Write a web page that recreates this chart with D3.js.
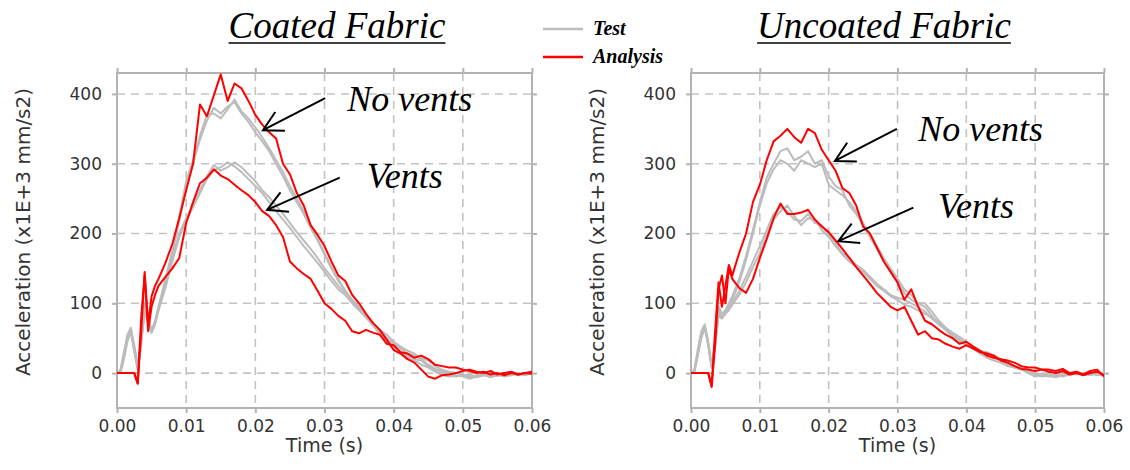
<!DOCTYPE html>
<html>
<head>
<meta charset="utf-8">
<script src="https://cdn.jsdelivr.net/npm/d3@7"></script>
<style>
  body { margin: 0; background: #fff; }
  text { font-family: "DejaVu Sans", sans-serif; }
</style>
</head>
<body>
<svg id="chart" width="1130" height="470"></svg>
<script>
// time samples (s): half-ms at the start, then 1 ms
const time = [0, 0.0005, 0.001, 0.0015, 0.002, 0.0025, 0.003, 0.0035, 0.004, 0.0045, 0.005, 0.0055, 0.006,
  0.007, 0.008, 0.009, 0.010, 0.011, 0.012, 0.013, 0.014, 0.015, 0.016,
  0.017, 0.018, 0.019, 0.020, 0.021, 0.022, 0.023, 0.024, 0.025, 0.026,
  0.027, 0.028, 0.029, 0.030, 0.031, 0.032, 0.033, 0.034, 0.035, 0.036,
  0.037, 0.038, 0.039, 0.040, 0.041, 0.042, 0.043, 0.044, 0.045, 0.046,
  0.047, 0.048, 0.049, 0.050, 0.051, 0.052, 0.053, 0.054, 0.055, 0.056,
  0.057, 0.058, 0.059, 0.060];

const xTicks = [0, 0.01, 0.02, 0.03, 0.04, 0.05, 0.06];
const yTicks = [0, 100, 200, 300, 400];
const yDomain = [-50, 430];

// ---- Coated fabric (x1E+3 mm/s2)
const coatedTestNoVents1 = [0, 5, 30, 55, 65, 40, 10, 50, 100, 80, 62, 75, 95,
  135, 175, 225, 275, 305, 340, 370, 372, 365, 378,
  392, 375, 365, 352, 338, 322, 305, 288, 268, 250,
  232, 212, 192, 172, 152, 135, 118, 105, 92, 80,
  68, 56, 45, 35, 28, 22, 18, 12, 8, 2,
  -3, -5, -4, -2, -6, -3, 0, -4, -2, -5,
  -3, 0, -2, 0];
const coatedTestNoVents2 = [0, 0, 20, 45, 60, 30, 5, 40, 90, 70, 58, 70, 90,
  130, 172, 218, 268, 300, 335, 362, 380, 372, 382,
  388, 372, 360, 345, 332, 318, 300, 282, 262, 245,
  228, 208, 190, 170, 150, 132, 118, 102, 92, 82,
  70, 58, 48, 38, 30, 25, 20, 18, 10, 5,
  0, -2, -5, -3, -2, -5, -3, 0, -4, -2,
  0, -3, 0, 0];
const coatedTestVents1 = [0, 3, 25, 50, 62, 35, 8, 45, 95, 75, 60, 72, 92,
  125, 165, 200, 222, 240, 262, 282, 298, 290, 295,
  302, 295, 285, 275, 262, 252, 240, 228, 215, 202,
  190, 178, 165, 150, 138, 125, 115, 105, 95, 82,
  70, 60, 50, 42, 35, 28, 25, 20, 12, 6,
  3, 0, -3, -5, -8, -5, -2, -6, -3, -2,
  0, -3, -1, 0];
const coatedTestVents2 = [0, 2, 22, 48, 60, 32, 6, 42, 92, 72, 58, 70, 90,
  122, 160, 195, 218, 238, 258, 278, 290, 295, 302,
  296, 288, 278, 268, 258, 245, 232, 220, 208, 195,
  182, 170, 158, 145, 132, 120, 112, 100, 90, 80,
  72, 62, 55, 45, 38, 32, 28, 22, 18, 10,
  5, 2, 0, -2, -4, -6, -3, -5, -2, 0,
  -2, 0, -3, 0];
const coatedAnalysisNoVents = [0, 0, 0, 0, 0, 0, -15, 60, 145, 70, 110, 125, 135,
  158, 185, 222, 262, 300, 385, 368, 398, 428, 390,
  415, 408, 390, 370, 356, 345, 336, 300, 285, 258,
  240, 212, 198, 182, 160, 140, 132, 112, 100, 85,
  72, 62, 48, 33, 28, 20, 15, 5, -5, -8,
  -3, -2, 0, 3, 5, 2, 0, 3, -2, 0,
  2, -2, 0, 2];
const coatedAnalysisVents = [0, 0, 0, 0, 0, 0, -15, 80, 140, 60, 95, 112, 125,
  138, 150, 165, 215, 245, 272, 280, 292, 283, 278,
  270, 262, 255, 245, 232, 225, 212, 195, 160, 150,
  142, 135, 118, 100, 92, 82, 75, 60, 57, 62,
  58, 55, 42, 40, 30, 28, 22, 25, 20, 12,
  10, 8, 8, 5, 3, 0, 2, -2, 0, -3,
  0, -2, 0, -1];

// ---- Uncoated fabric (x1E+3 mm/s2)
const uncoatedTestNoVents1 = [0, 5, 35, 60, 70, 45, 10, 45, 95, 85, 90, 100, 110,
  135, 168, 205, 245, 280, 300, 318, 322, 305, 310,
  318, 300, 305, 282, 268, 262, 240, 228, 212, 195,
  178, 162, 145, 130, 115, 105, 100, 95, 82, 70,
  62, 55, 48, 42, 35, 30, 28, 22, 18, 12,
  10, 5, 0, -5, -3, 0, -5, -3, 0, -2,
  0, -3, 0, -2];
const uncoatedTestNoVents2 = [0, 2, 25, 50, 65, 40, 8, 40, 90, 80, 85, 95, 105,
  130, 162, 200, 240, 272, 292, 305, 300, 290, 305,
  300, 295, 300, 270, 262, 255, 245, 232, 215, 198,
  182, 165, 150, 135, 120, 112, 100, 100, 88, 75,
  65, 58, 52, 45, 38, 32, 30, 25, 20, 15,
  10, 8, 3, -2, -5, -3, -2, 0, -3, 0,
  -2, 0, -2, -3];
const uncoatedTestVents1 = [0, 4, 30, 55, 68, 42, 10, 40, 85, 80, 88, 92, 100,
  118, 138, 160, 182, 205, 228, 238, 232, 220, 218,
  228, 215, 212, 198, 185, 172, 165, 155, 148, 138,
  128, 120, 112, 108, 105, 100, 95, 88, 78, 70,
  62, 52, 45, 40, 35, 28, 22, 18, 15, 10,
  8, 5, 2, 0, -3, -5, -3, -5, -2, 0,
  -2, 0, -3, 0];
const uncoatedTestVents2 = [0, 3, 28, 52, 66, 40, 9, 38, 82, 78, 85, 90, 98,
  112, 130, 152, 172, 198, 220, 232, 240, 225, 212,
  222, 220, 205, 195, 182, 170, 160, 152, 145, 135,
  125, 118, 110, 105, 98, 95, 90, 85, 80, 72,
  65, 55, 48, 42, 38, 30, 25, 22, 18, 12,
  8, 6, 3, 0, -2, -4, -6, -3, -1, 0,
  -3, -1, 0, -2];
const uncoatedAnalysisNoVents = [0, 0, 0, 0, 0, 0, -18, 60, 130, 95, 125, 155, 140,
  172, 200, 245, 270, 305, 332, 340, 350, 338, 330,
  350, 344, 320, 305, 290, 265, 258, 240, 210, 200,
  180, 160, 145, 130, 105, 120, 95, 75, 70, 62,
  55, 50, 42, 45, 38, 32, 25, 22, 20, 18,
  15, 10, 8, 8, 5, 5, 3, 6, 0, 2,
  -2, 3, 5, -5];
const uncoatedAnalysisVents = [0, 0, 0, 0, 0, 0, -20, 40, 120, 140, 100, 150, 135,
  122, 115, 135, 165, 192, 222, 243, 228, 228, 230,
  234, 220, 210, 202, 190, 178, 165, 152, 140, 128,
  115, 105, 95, 90, 95, 75, 55, 60, 50, 48,
  42, 38, 35, 40, 35, 30, 28, 25, 18, 15,
  10, 6, 5, 3, 5, 2, 0, 3, -2, 0,
  -3, 0, 2, -3];

// annotation text + arrow (in data units: [time, accel])
const coatedNotes = [
  { label: "No vents", text: [0.0333, 376], from: [0.0301, 394], to: [0.0211, 348] },
  { label: "Vents", text: [0.0361, 265], from: [0.0322, 280], to: [0.0217, 234] }
];
const uncoatedNotes = [
  { label: "No vents", text: [0.0330, 333], from: [0.0299, 350], to: [0.0209, 304] },
  { label: "Vents", text: [0.0359, 222], from: [0.0323, 237], to: [0.0214, 189] }
];

const panels = [
  { title: "Coated Fabric", titleX: 337, left: 117, right: 532,
    tests: [coatedTestNoVents1, coatedTestNoVents2, coatedTestVents1, coatedTestVents2],
    analyses: [coatedAnalysisNoVents, coatedAnalysisVents], notes: coatedNotes },
  { title: "Uncoated Fabric", titleX: 884, left: 691, right: 1104,
    tests: [uncoatedTestNoVents1, uncoatedTestNoVents2, uncoatedTestVents1, uncoatedTestVents2],
    analyses: [uncoatedAnalysisNoVents, uncoatedAnalysisVents], notes: uncoatedNotes }
];

const plotTop = 73, plotBottom = 408;
const frameColor = "#b3b3b3";
const testColor = "#bcbcbc";
const redColor = "#ff0000";

const svg = d3.select("#chart");
svg.append("rect").attr("width", 1130).attr("height", 470).attr("fill", "#fff");

panels.forEach((p, pi) => {
  const x = d3.scaleLinear().domain([0, 0.06]).range([p.left, p.right]);
  const y = d3.scaleLinear().domain(yDomain).range([plotBottom, plotTop]);
  const g = svg.append("g");

  // dashed grid
  g.selectAll(".vgrid").data(xTicks.slice(1, -1)).enter().append("line")
    .attr("x1", d => x(d)).attr("x2", d => x(d))
    .attr("y1", plotTop).attr("y2", plotBottom)
    .attr("stroke", "#c2c2c2").attr("stroke-width", 1.6).attr("stroke-dasharray", "8,6");
  g.selectAll(".hgrid").data(yTicks).enter().append("line")
    .attr("x1", p.left).attr("x2", p.right)
    .attr("y1", d => y(d)).attr("y2", d => y(d))
    .attr("stroke", "#c2c2c2").attr("stroke-width", 1.6).attr("stroke-dasharray", "8,6");

  // axes (ticks outside on all four sides)
  const fmt = d3.format(".2f");
  const axB = g.append("g").attr("transform", `translate(0,${plotBottom})`)
    .call(d3.axisBottom(x).tickValues(xTicks).tickFormat(fmt).tickSize(5).tickSizeOuter(0).tickPadding(7));
  const axT = g.append("g").attr("transform", `translate(0,${plotTop})`)
    .call(d3.axisTop(x).tickValues(xTicks).tickFormat("").tickSize(5).tickSizeOuter(0));
  const axL = g.append("g").attr("transform", `translate(${p.left},0)`)
    .call(d3.axisLeft(y).tickValues(yTicks).tickSize(5).tickSizeOuter(0).tickPadding(10));
  const axR = g.append("g").attr("transform", `translate(${p.right},0)`)
    .call(d3.axisRight(y).tickValues(yTicks).tickFormat("").tickSize(5).tickSizeOuter(0));
  [axB, axT, axL, axR].forEach(a => {
    a.select(".domain").remove();
    a.selectAll(".tick line").attr("stroke", frameColor).attr("stroke-width", 2);
    a.selectAll(".tick text").attr("fill", "#333").style("font-size", "17px")
      .style("font-family", "'DejaVu Sans', sans-serif");
  });

  g.append("rect").attr("x", p.left).attr("y", plotTop)
    .attr("width", p.right - p.left).attr("height", plotBottom - plotTop)
    .attr("fill", "none").attr("stroke", frameColor).attr("stroke-width", 2);

  // axis titles
  g.append("text").attr("x", (p.left + p.right) / 2).attr("y", 452)
    .attr("text-anchor", "middle").attr("fill", "#333").style("font-size", "19px")
    .text("Time (s)");
  g.append("text").attr("transform", `translate(${p.left - 87},232) rotate(-90)`)
    .attr("text-anchor", "middle").attr("fill", "#333").style("font-size", "20px")
    .text("Acceleration (x1E+3 mm/s2)");

  // curves
  const clipId = "clip" + pi;
  svg.append("clipPath").attr("id", clipId).append("rect")
    .attr("x", p.left).attr("y", plotTop).attr("width", p.right - p.left).attr("height", plotBottom - plotTop);
  const line = d3.line().x((d, i) => x(time[i])).y(d => y(d));
  const curves = g.append("g").attr("clip-path", `url(#${clipId})`);
  curves.selectAll(".test").data(p.tests).enter().append("path")
    .attr("d", line).attr("fill", "none").attr("stroke", testColor)
    .attr("stroke-width", 2).attr("stroke-linejoin", "round");
  curves.selectAll(".analysis").data(p.analyses).enter().append("path")
    .attr("d", line).attr("fill", "none").attr("stroke", redColor)
    .attr("stroke-width", 2).attr("stroke-linejoin", "round");

  // annotations
  p.notes.forEach(n => {
    g.append("text").attr("x", x(n.text[0])).attr("y", y(n.text[1]))
      .style("font-family", "'Liberation Serif', 'Times New Roman', serif")
      .style("font-style", "italic").style("font-size", "36px").attr("fill", "#000")
      .text(n.label);
    const sx = x(n.from[0]), sy = y(n.from[1]);
    const tx = x(n.to[0]), ty = y(n.to[1]);
    const a = Math.atan2(sy - ty, sx - tx);
    const L = 22, spread = 0.5;
    const path = `M${sx},${sy}L${tx},${ty}` +
      `M${tx + L * Math.cos(a - spread)},${ty + L * Math.sin(a - spread)}L${tx},${ty}` +
      `L${tx + L * Math.cos(a + spread)},${ty + L * Math.sin(a + spread)}`;
    g.append("path").attr("d", path).attr("fill", "none")
      .attr("stroke", "#000").attr("stroke-width", 2);
  });

  // title with underline
  const t = svg.append("text").attr("x", p.titleX).attr("y", 38)
    .attr("text-anchor", "middle")
    .style("font-family", "'Liberation Serif', 'Times New Roman', serif")
    .style("font-style", "italic").style("font-size", "37px").attr("fill", "#000")
    .text(p.title);
  const tw = t.node().getComputedTextLength();
  svg.append("line").attr("x1", p.titleX - tw / 2).attr("x2", p.titleX + tw / 2)
    .attr("y1", 43).attr("y2", 43).attr("stroke", "#000").attr("stroke-width", 1.5);
});

// legend
const legendItems = [
  { label: "Test", color: testColor, y: 29 },
  { label: "Analysis", color: redColor, y: 57 }
];
const lg = svg.append("g");
lg.selectAll("line").data(legendItems).enter().append("line")
  .attr("x1", 543).attr("x2", 583).attr("y1", d => d.y).attr("y2", d => d.y)
  .attr("stroke", d => d.color).attr("stroke-width", 2.5);
lg.selectAll("text").data(legendItems).enter().append("text")
  .attr("x", 593).attr("y", d => d.y + 6)
  .style("font-family", "'Liberation Serif', 'Times New Roman', serif")
  .style("font-style", "italic").style("font-weight", "bold").style("font-size", "20px")
  .attr("fill", "#000").text(d => d.label);
</script>
</body>
</html>
